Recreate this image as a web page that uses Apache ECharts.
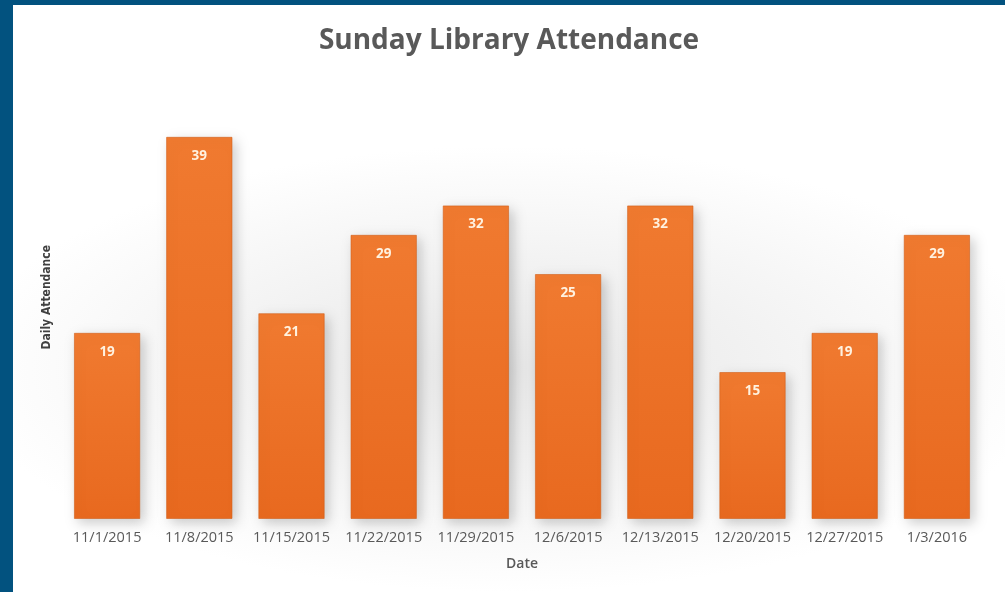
<!DOCTYPE html>
<html><head><meta charset="utf-8">
<script src="https://cdn.jsdelivr.net/npm/echarts@6/dist/echarts.min.js"></script>
<style>
html,body{margin:0;padding:0;width:1005px;height:592px;background:#02527f;overflow:hidden}
#c{position:absolute;left:13px;top:5px;width:992px;height:587px;
background:radial-gradient(ellipse 55% 38% at 50% 62%, #e6e6e6 0%, #f4f4f4 55%, #ffffff 100%);}
</style></head><body>
<div id="c"></div>
<script>
const categories = ['11/1/2015','11/8/2015','11/15/2015','11/22/2015','11/29/2015','12/6/2015','12/13/2015','12/20/2015','12/27/2015','1/3/2016'];
const attendance = [19,39,21,29,32,25,32,15,19,29];
const titleText = 'Sunday Library Attendance';
const xName = 'Date';
const yName = 'Daily Attendance';

const chart = echarts.init(document.getElementById('c'));
chart.setOption({
  animation:false,
  backgroundColor:'transparent',
  title:{text:titleText,left:'center',top:17,textStyle:{fontFamily:'Open Sans',fontSize:28,fontWeight:'bold',color:'#595959'}},
  grid:{left:48,right:22,top:122,bottom:73},
  xAxis:{type:'category',data:categories,axisLine:{show:false},axisTick:{show:false},
    axisLabel:{color:'#595959',fontSize:14.5,fontFamily:'Open Sans',margin:11,interval:0},
    name:xName,nameLocation:'middle',nameGap:38,nameTextStyle:{color:'#595959',fontSize:14,fontWeight:600,fontFamily:'Open Sans'}},
  yAxis:{type:'value',min:0,max:40,show:false},
  graphic:[{type:'text',left:28,top:240,rotation:Math.PI/2,
    style:{text:yName,fill:'#404040',font:'bold 12px "Liberation Sans Narrow", "DejaVu Sans Condensed", sans-serif'}}],
  series:[{type:'bar',data:attendance,barCategoryGap:'28%',
    itemStyle:{color:new echarts.graphic.LinearGradient(0,0,0,1,[
      {offset:0,color:'#f07a30'},{offset:1,color:'#e8691f'}]),
      borderColor:'rgba(210,95,25,0.6)',borderWidth:1,
      shadowColor:'rgba(0,0,0,0.2)',shadowBlur:12,shadowOffsetX:4,shadowOffsetY:4},
    label:{show:true,position:'insideTop',distance:12,color:'#fff2e0',fontSize:13.5,fontWeight:'bold',fontFamily:'Open Sans'}}]
});
</script></body></html>
